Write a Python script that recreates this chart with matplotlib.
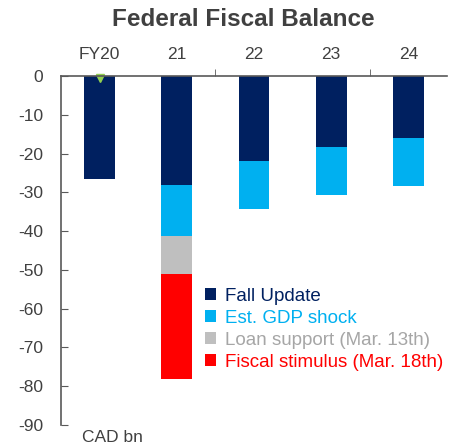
import matplotlib
matplotlib.use("Agg")
import matplotlib.pyplot as plt
from matplotlib.patches import Patch
import numpy as np

plt.rcParams['font.family'] = ['Liberation Sans', 'DejaVu Sans']
plt.rcParams['axes.unicode_minus'] = False

categories = ["FY20", "21", "22", "23", "24"]
fall_update = [-26.6, -28.0, -21.9, -18.3, -16.0]
gdp_shock = [0.0, -13.2, -12.4, -12.4, -12.4]
loan_support = [0.0, -9.8, 0.0, 0.0, 0.0]
fiscal_stimulus = [0.0, -27.2, 0.0, 0.0, 0.0]
actual = [0.0]  # FY20 marker

series = [
    ("Fall Update", fall_update, "#002060", "#002060"),
    ("Est. GDP shock", gdp_shock, "#00B0F0", "#00B0F0"),
    ("Loan support (Mar. 13th)", loan_support, "#BFBFBF", "#A6A6A6"),
    ("Fiscal stimulus (Mar. 18th)", fiscal_stimulus, "#FF0000", "#FF0000"),
]

fig = plt.figure(figsize=(4.56, 4.44), dpi=100)
ax = fig.add_axes([61/456, 1-425/444, (447-61)/456, (425-76)/444])

x = np.arange(len(categories))
bottom = np.zeros(len(categories))
for name, vals, col, _ in series:
    v = np.array(vals)
    ax.bar(x, v, 0.4, bottom=bottom, color=col, zorder=2)
    bottom = bottom + v

ax.plot([0], [actual[0] - 0.6], marker='v', color='#92D050', markersize=6,
        linestyle='none', zorder=4, clip_on=False)

ax.set_xlim(-0.5, 4.5)
ax.set_ylim(-90, 0)
ax.set_yticks(np.arange(-90, 1, 10))
ax.tick_params(axis='y', direction='in', length=5, color='#595959',
               labelsize=12.5, labelcolor='#404040', pad=13)
ax.xaxis.tick_top()
ax.set_xticks(x)
ax.set_xticklabels(categories)
ax.tick_params(axis='x', which='major', length=0, labelsize=12.5,
               labelcolor='#404040', pad=10)
ax.set_xticks([1.5, 3.5], minor=True)
ax.tick_params(axis='x', which='minor', direction='out', length=5,
               color='#595959', top=True)

for s in ['right', 'bottom']:
    ax.spines[s].set_visible(False)
for s in ['left', 'top']:
    ax.spines[s].set_color('#595959')
    ax.spines[s].set_linewidth(1.2)
ax.spines['top'].set_zorder(5)

handles = [Patch(facecolor=c, edgecolor='none') for _, _, c, _ in series]
labels = [n for n, _, _, _ in series]
leg = ax.legend(handles, labels, loc='upper left',
                bbox_to_anchor=((205-61)/386, 1-(288-76)/349),
                frameon=False, fontsize=13.5, handlelength=0.6, handleheight=0.6,
                handletextpad=0.45, labelspacing=0.26, borderaxespad=0, borderpad=0)
for t, (_, _, _, tc) in zip(leg.get_texts(), series):
    t.set_color(tc)

fig.text(243/456, 1-20/444, "Federal Fiscal Balance", ha='center', va='center',
         fontsize=17.5, fontweight='bold', color='#404040')
fig.text(82/456, 1-437/444, "CAD bn", ha='left', va='center', fontsize=12.5,
         color='#404040')

fig.savefig("out.png", dpi=100)
